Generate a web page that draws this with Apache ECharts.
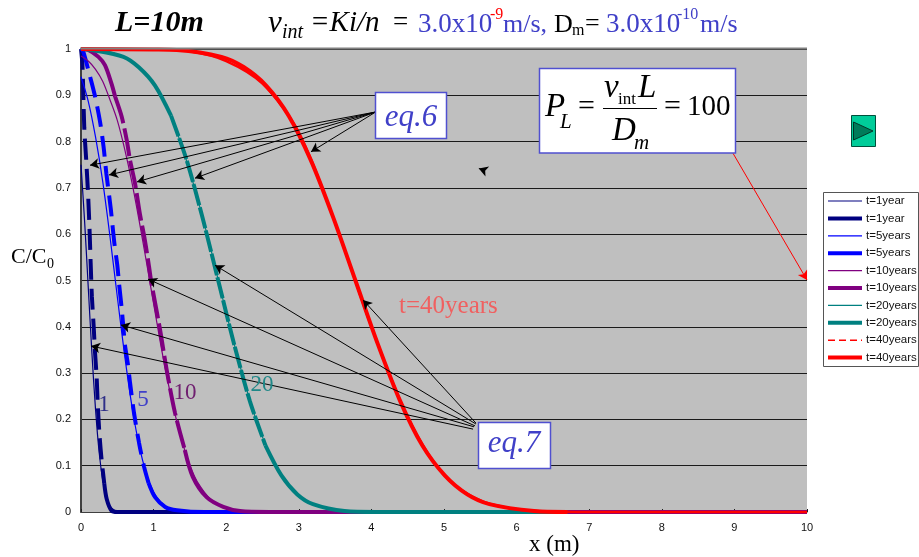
<!DOCTYPE html>
<html>
<head>
<meta charset="utf-8">
<style>html,body{margin:0;padding:0;background:#fff}#c{width:919px;height:557px}</style>
<script src="https://cdn.jsdelivr.net/npm/echarts@6/dist/echarts.min.js"></script>
</head>
<body>
<div id="c"></div>
<script>
// values
const thin1X = [0,.05,.1,.15,.2,.25,.3,.35,.4,.45,.5,.6,1.5,10];
const thin1C = [.75,.627,.485,.344,.222,.129,.068,.032,.013,.005,.002,0,0,0];
const thick1X = [0,.02,.045,.07,.10,.12,.133,.15,.175,.193,.216,.23,.252,.28,.32,.354,.42,.5,1.5,10];
const thick1C = [1,.965,.83,.765,.678,.60,.538,.465,.40,.345,.29,.235,.173,.119,.062,.028,.003,0,0,0];
const thin5X = [0,.1,.2,.3,.4,.5,.6,.7,.8,.9,1,1.1,1.2,1.4,1.6,10];
const thin5C = [.94,.887,.81,.713,.594,.465,.34,.23,.144,.083,.043,.021,.009,.001,0,0];
const thick5X = [0,.03,.10,.19,.26,.31,.35,.41,.46,.50,.523,.56,.583,.606,.645,.675,.73,.80,.87,.93,1.02,1.16,1.32,1.7,10];
const thick5C = [1,.995,.955,.9,.845,.79,.73,.655,.58,.533,.495,.44,.40,.36,.32,.28,.214,.149,.097,.063,.032,.011,.004,0,0];
const thin10X = [0,.1,.2,.3,.4,.5,.6,.7,.8,.9,1,1.1,1.2,1.3,1.4,1.5,1.6,1.8,2,2.3,2.6,10];
const thin10C = [.985,.974,.956,.93,.89,.846,.785,.713,.63,.541,.45,.36,.279,.208,.148,.101,.066,.025,.008,.001,0,0];
const thick10X = [0,.1,.24,.33,.42,.47,.56,.63,.675,.744,.81,.88,.937,.97,1.09,1.18,1.295,1.43,1.54,1.73,1.96,2.19,2.6,10];
const thick10C = [1,.998,.983,.965,.925,.897,.854,.803,.76,.71,.645,.587,.53,.495,.393,.307,.214,.134,.076,.032,.011,.002,0,0];
const thin20X = [0,.3,.6,.8,1,1.2,1.4,1.6,1.8,2,2.2,2.4,2.6,2.8,3,3.2,3.6,4,5,10];
const thin20C = [.999,.997,.982,.96,.925,.868,.785,.68,.56,.43,.31,.205,.125,.07,.035,.016,.002,0,0,0];
const thick20X = [0,.15,.585,.8,1.02,1.24,1.455,1.67,1.89,2.11,2.325,2.54,2.76,2.98,3.195,3.63,4.07,5,6.7];
const thick20C = [1,.998,.983,.96,.921,.856,.76,.638,.5,.362,.24,.144,.079,.038,.017,.002,0,0,0];
const thin40X = [0,1,1.5,2,2.5,3,3.5,4,4.5,5,5.5,6,6.5,7,10];
const thin40C = [1,.999,.995,.974,.925,.82,.625,.40,.205,.08,.025,.006,.001,0,0];
const thick40X = [0,1,1.32,1.935,2.24,2.55,2.86,3.165,3.47,3.78,4.09,4.395,4.70,5.01,5.32,5.625,6.24,6.7];
const thick40C = [1,.999,.998,.983,.961,.921,.856,.76,.638,.5,.362,.24,.144,.079,.038,.017,.002,0];

const xTicks = {min:0,max:10,step:1};
const yTicks = {min:0,max:1,step:.1};

const pair = (xs,cs) => xs.map((x,i)=>[x,cs[i]]);
const NAVY='#000080',BLUE='#0000FF',PURP='#800080',TEAL='#008080',RED='#FF0000';
const INK='#4040C8';

const series = [];
const SM = 0.3;
function thin(name,xs,cs,color,w){
  series.push({name,type:'line',data:pair(xs,cs),showSymbol:false,symbol:'none',smooth:SM,
    clip:false,lineStyle:{color,width:w||1.2},itemStyle:{color},silent:true});
}
// a thick curve is dashed only between indices a..b, as in the picture
function thick(name,xs,cs,color,a,b,dash){
  const d = pair(xs,cs);
  const part=(nm,arr,type)=>{ if(arr.length<2) return;
    series.push({name:nm,type:'line',data:arr,showSymbol:false,symbol:'none',smooth:SM,
      clip:false,lineStyle:{color,width:4,type,cap:'butt'},itemStyle:{color},silent:true});};
  part(name,d.slice(a,b+1),dash);
  part(name+'  head',d.slice(0,a+1),'solid');
  part(name+'  tail',d.slice(b),'solid');
}
thin('t=1year',thin1X,thin1C,NAVY);
thick('t=1year ',thick1X,thick1C,NAVY,0,14,[21,9]);
thin('t=5years',thin5X,thin5C,BLUE);
thick('t=5years ',thick5X,thick5C,BLUE,0,19,[21,9]);
thin('t=10years',thin10X,thin10C,PURP);
thick('t=10years ',thick10X,thick10C,PURP,5,17,[28,5]);
thin('t=20years',thin20X,thin20C,TEAL);
thick('t=20years ',thick20X,thick20C,TEAL,5,11,[22,2]);
thin('t=40years',thin40X,thin40C,RED,2.4);
thick('t=40years ',thick40X,thick40C,RED,0,17,'solid');

// annotation arrows in data units
const arrow=(a,b,color)=>[{coord:a,lineStyle:{color:color||'#000',width:1,type:'solid'}},{coord:b}];
series.push({name:'arrows',type:'line',data:[],silent:true,markLine:{
  silent:true,animation:false,symbol:['none','arrow'],symbolSize:[8,9],label:{show:false},emphasis:{disabled:true},
  data:[
   arrow([4.06,.864],[.124,.749]),arrow([4.06,.864],[.386,.728]),arrow([4.06,.864],[.771,.713]),
   arrow([4.06,.864],[1.57,.721]),arrow([4.06,.864],[3.168,.778]),
   arrow([5.44,.192],[3.884,.458]),arrow([5.44,.19],[1.846,.533]),arrow([5.427,.186],[.923,.503]),
   arrow([5.413,.184],[.551,.404]),arrow([5.40,.179],[.138,.3585]),
   arrow([8.98,.775],[10,.501],'#FF0000'),
   arrow([5.55,.738],[5.48,.742])
  ]}});

const key=(name,width,type)=>({name,itemStyle:{opacity:0,borderWidth:0},lineStyle:{width,type:type||'solid'}});
const legendNames=[
 key('t=1year',1.2),key('t=1year ',4),
 key('t=5years',1.2),key('t=5years ',4),
 key('t=10years',1.2),key('t=10years ',4),
 key('t=20years',1.2),key('t=20years ',4),
 key('t=40years',1.5,[7,4]),key('t=40years ',4)
];

const SERIF='"Liberation Serif","Times New Roman",serif';
const txt=(text,x,y,size,fill,o)=>Object.assign({type:'text',z:100,silent:true,x,y,style:{
  text,fill:fill||'#000',font:((o&&o.fs)||'')+' '+size+'px '+SERIF,align:(o&&o.align)||'left',verticalAlign:'middle'}});
const it={fs:'italic'}, ctr={align:'center'}, itc={fs:'italic',align:'center'};
const box=(x,y,w,h)=>({type:'rect',z:90,silent:true,shape:{x,y,width:w,height:h},style:{fill:'#fff',stroke:'#5050D0',lineWidth:1.5}});

const graphic=[
 {type:'rect',z:50,silent:true,shape:{x:80,y:47.5,width:727,height:2},style:{fill:'#808080'}},
 // header
 txt('L=10m',115,23,30,'#000',{fs:'italic bold'}),
 txt('v',268,24,31,'#000',it),
 txt('int',282,33,20,'#000',it),
 txt('=Ki/n',310,23,29,'#000',it),
 txt('=',393,23,27),
 txt('3.0x10',418,25,27,INK),
 txt('-9',490,15,16,'#FF0000'),
 txt('m/s,',503,25,26,INK),
 txt('D',554,25,26),
 txt('m',572,31,16),
 txt('=',585,24,26),
 txt('3.0x10',606,25,27,INK),
 txt('-10',677,15,16,INK),
 txt('m/s',700,25,26,INK),
 // Peclet box
 box(539.5,68.5,196,84.5),
 txt('P',545,107,33,'#000',it),
 txt('L',560,122,21,'#000',it),
 txt('=',578,107,30),
 txt('v',604,88,33,'#000',it),
 txt('int',618,100,17),
 txt('L',638,88,33,'#000',it),
 {type:'line',z:100,silent:true,shape:{x1:603,y1:108.5,x2:657,y2:108.5},style:{stroke:'#000',lineWidth:1}},
 txt('D',612,131,33,'#000',it),
 txt('m',634,143,21,'#000',it),
 txt('=',664,107,30),
 txt('100',687,107,29),
 // equation tags
 box(375.5,92.5,71,46),
 txt('eq.6',411,118,31,INK,itc),
 box(478.5,422.5,72,46),
 txt('eq.7',514,444,31,INK,itc),
 // curve labels
 txt('1',104,405,23,'#303088',ctr),
 txt('5',143,400,23,INK,ctr),
 txt('10',185,393,23,'#702070',ctr),
 txt('20',262,385,23,'#208888',ctr),
 txt('t=40years',399,306,25,'#F06060'),
 // axis captions
 txt('C/C',11,257,22),
 txt('0',47,264,14),
 txt('x (m)',529,545,23),
 // legend frame
 {type:'rect',z:1,silent:true,shape:{x:823.5,y:192.5,width:95,height:174},style:{fill:'#fff',stroke:'#555',lineWidth:1}},
 // button
 {type:'rect',z:100,silent:true,shape:{x:851.5,y:115.5,width:24,height:31},style:{fill:'#00CC99',stroke:'#00503C',lineWidth:1}},
 {type:'polygon',z:101,silent:true,shape:{points:[[853.5,122],[873,131],[853.5,140]]},style:{fill:'#007B5A',stroke:'#003828',lineWidth:1}}
];

const chart=echarts.init(document.getElementById('c'),null,{renderer:'canvas'});
chart.setOption({
  animation:false,
  textStyle:{fontFamily:'"Liberation Sans",Arial,sans-serif'},
  grid:{left:81,right:112,top:49,bottom:45,show:true,backgroundColor:'#BFBFBF',borderWidth:0},
  xAxis:{type:'value',min:xTicks.min,max:xTicks.max,interval:xTicks.step,
    axisLine:{show:true,onZero:false,lineStyle:{color:'#404040',width:1}},
    axisTick:{show:true,inside:true,length:3,lineStyle:{color:'#202020'}},
    axisLabel:{color:'#111',fontSize:11,margin:10,showMinLabel:true,showMaxLabel:true},splitLine:{show:false}},
  yAxis:{type:'value',min:yTicks.min,max:yTicks.max,interval:yTicks.step,
    axisLine:{show:true,onZero:false,lineStyle:{color:'#404040',width:2}},
    axisTick:{show:false},
    axisLabel:{color:'#111',fontSize:11,margin:10,showMinLabel:true,showMaxLabel:true},
    splitLine:{show:true,lineStyle:{color:'#1A1A1A',width:1}}},
  legend:{show:true,orient:'vertical',left:826,top:195,padding:0,itemWidth:34,itemHeight:14,itemGap:5.4,
    selectedMode:false,data:legendNames,formatter:n=>n.trim(),
    textStyle:{color:'#111',fontSize:11.5,padding:[0,0,0,-1]}},
  series,
  graphic
});
</script>
</body>
</html>
